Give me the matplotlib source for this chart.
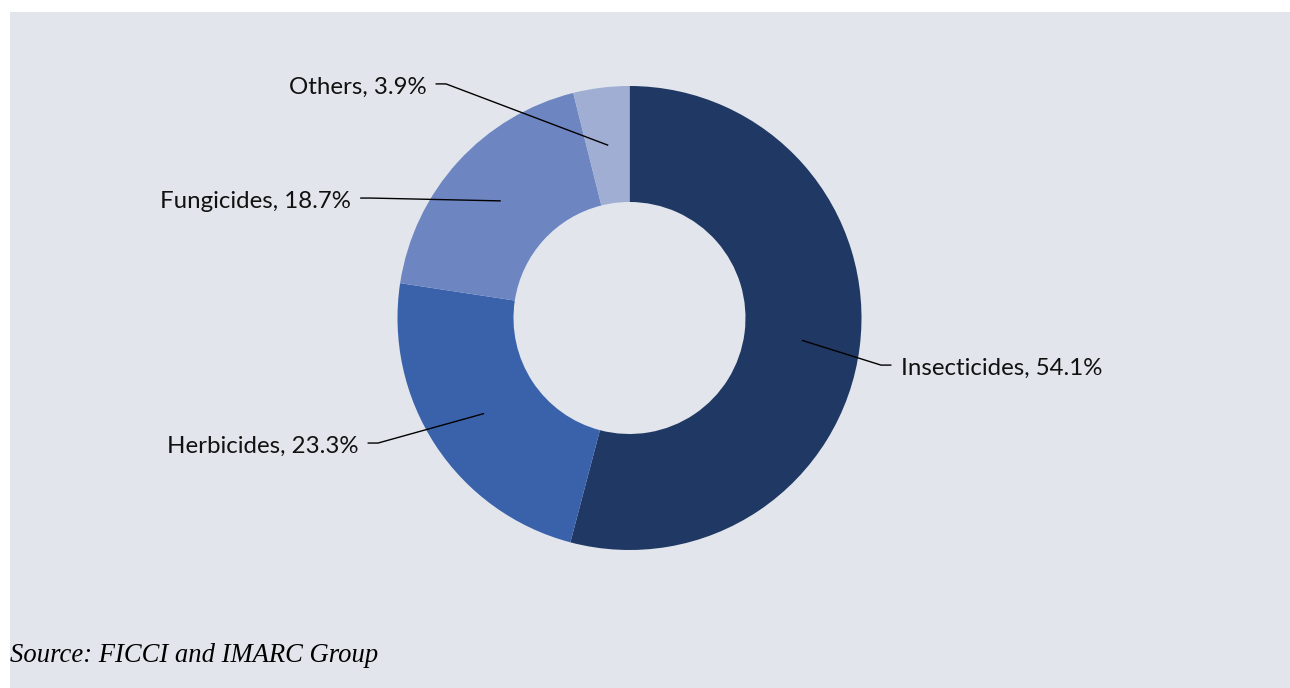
import matplotlib.pyplot as plt
from matplotlib.patches import Rectangle
import numpy as np

# pesticide consumption split
categories = ['Insecticides', 'Herbicides', 'Fungicides', 'Others']
shares = [54.1, 23.3, 18.7, 3.9]
colors = ['#203864', '#3A62AB', '#6D86C2', '#A0AED3']

# leader line elbows for each label (data units, radius 1 = outer edge)
elbows = [(1.084, -0.203), (-1.084, -0.539), (-1.116, 0.517), (-0.791, 1.009)]

bg = '#E2E6EC'
W, H = 1290, 688
fig = plt.figure(figsize=(W / 100, H / 100), dpi=100)
fig.patch.set_facecolor('white')
fig.add_artist(Rectangle((10 / W, 0), 1 - 10 / W, 1 - 12 / H,
                         transform=fig.transFigure, facecolor=bg,
                         edgecolor='none', zorder=0))

# donut centred at (629.5, 318) px, outer radius 232 px
cx, cy, r = 629.5, 318, 232
ax = fig.add_axes([(cx - r) / W, (H - cy - r) / H, 2 * r / W, 2 * r / H])

wedges, _ = ax.pie(shares, colors=colors, startangle=90, counterclock=False,
                   radius=1, wedgeprops=dict(width=0.5, edgecolor='none'))
ax.set_xlim(-1, 1)
ax.set_ylim(-1, 1)
ax.set_aspect('equal')
ax.axis('off')

font = ['Lato', 'DejaVu Sans']
for w, name, val, (ex, ey) in zip(wedges, categories, shares, elbows):
    ang = np.deg2rad((w.theta1 + w.theta2) / 2)
    ax0, ay0 = 0.75 * np.cos(ang), 0.75 * np.sin(ang)
    side = 1 if ex > 0 else -1
    endx = ex + side * 0.045
    ax.plot([ax0, ex, endx], [ay0, ey, ey], color='black', lw=1.0,
            clip_on=False, solid_capstyle='butt')
    ax.text(endx + side * 0.04, ey - 0.013, f'{name}, {val}%',
            ha='left' if side > 0 else 'right', va='center',
            fontsize=17.3, family=font, color='#111111')

fig.text(10 / W, 1 - 655 / H, 'Source: FICCI and IMARC Group',
         family='Liberation Serif', style='italic', fontsize=19.2,
         va='center', ha='left', color='black')

fig.savefig('out.png', dpi=100, facecolor=fig.get_facecolor())
